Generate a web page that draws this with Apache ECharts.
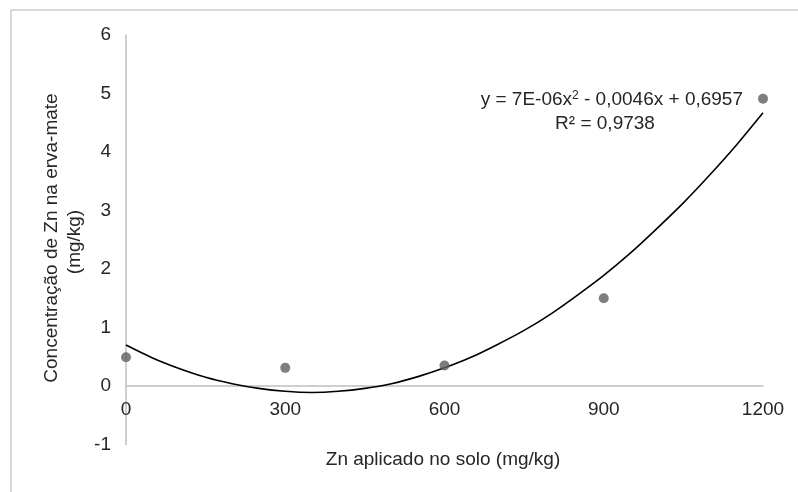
<!DOCTYPE html>
<html>
<head>
<meta charset="utf-8">
<script src="https://cdn.jsdelivr.net/npm/echarts@6/dist/echarts.min.js"></script>
<style>
  html, body { margin: 0; padding: 0; background: #fff; }
  #main { width: 798px; height: 492px; }
</style>
</head>
<body>
<div id="main"></div>
<script>
// measured points
var doses = [0, 300, 600, 900, 1200];
var znConc = [0.49, 0.31, 0.35, 1.5, 4.91];

// trendline
var trendX = [0, 50, 100, 150, 200, 250, 300, 350, 400, 450, 500, 550, 600,
              650, 700, 750, 800, 850, 900, 950, 1000, 1050, 1100, 1150, 1200];
var trendY = [0.70, 0.48, 0.30, 0.15, 0.04, -0.04, -0.09, -0.11, -0.09, -0.04, 0.04, 0.16, 0.31,
              0.49, 0.71, 0.95, 1.23, 1.55, 1.89, 2.27, 2.69, 3.13, 3.61, 4.12, 4.67];

var xTicks = [0, 300, 600, 900, 1200];
var yTicks = [-1, 0, 1, 2, 3, 4, 5, 6];

var font = "'Liberation Sans', Arial, sans-serif";
var txt = '#262626';

var chart = echarts.init(document.getElementById('main'));

var option = {
    animation: false,
    grid: { left: 126, right: 35, top: 35, bottom: 47.5 },
    xAxis: {
        type: 'value',
        min: xTicks[0],
        max: xTicks[xTicks.length - 1],
        interval: 300,
        offset: -58.5,   // sit on y = 0 with labels
        axisLine: { show: true, onZero: false, lineStyle: { color: '#bfbfbf', width: 1.5 } },
        axisTick: { show: false },
        splitLine: { show: false },
        axisLabel: { color: txt, fontFamily: font, fontSize: 19, margin: 14, formatter: function (v) { return String(v); } }
    },
    yAxis: {
        type: 'value',
        min: yTicks[0],
        max: yTicks[yTicks.length - 1],
        interval: 1,
        axisLine: { show: true, lineStyle: { color: '#bfbfbf', width: 1.5 } },
        axisTick: { show: false },
        splitLine: { show: false },
        axisLabel: { color: txt, fontFamily: font, fontSize: 19, margin: 15 }
    },
    series: [
        {
            type: 'line',
            data: trendX.map(function (x, i) { return [x, trendY[i]]; }),
            smooth: 0.3,
            showSymbol: false,
            lineStyle: { color: '#000', width: 1.6 },
            z: 3
        },
        {
            type: 'scatter',
            data: doses.map(function (x, i) { return [x, znConc[i]]; }),
            symbolSize: 10,
            itemStyle: { color: '#5e5e5e' },
            z: 4
        }
    ],
    graphic: [
        {
            type: 'rect',
            shape: { x: 11, y: 10, width: 820, height: 520 },
            style: { fill: 'none', stroke: '#d9d9d9', lineWidth: 2 },
            silent: true
        },
        {
            type: 'text',
            x: 743, y: 100,
            style: {
                text: 'y = 7E-06x{sup|2} - 0,0046x + 0,6957',
                align: 'right', verticalAlign: 'middle',
                fill: txt, font: '19px ' + font,
                rich: { sup: { fontSize: 12, fontFamily: font, fill: txt, verticalAlign: 'top', padding: [0, 0, 8, 0] } }
            }
        },
        {
            type: 'text',
            x: 605, y: 124,
            style: { text: 'R² = 0,9738', align: 'center', verticalAlign: 'middle', fill: txt, font: '19px ' + font }
        },
        {
            type: 'text',
            x: 443, y: 460,
            style: { text: 'Zn aplicado no solo (mg/kg)', align: 'center', verticalAlign: 'middle', fill: txt, font: '19px ' + font }
        },
        {
            type: 'text',
            x: 52, y: 238, rotation: Math.PI / 2,
            style: { text: 'Concentração de Zn na erva-mate', align: 'center', verticalAlign: 'middle', fill: txt, font: '19px ' + font }
        },
        {
            type: 'text',
            x: 75, y: 242, rotation: Math.PI / 2,
            style: { text: '(mg/kg)', align: 'center', verticalAlign: 'middle', fill: txt, font: '19px ' + font }
        }
    ]
};

chart.setOption(option);
</script>
</body>
</html>
